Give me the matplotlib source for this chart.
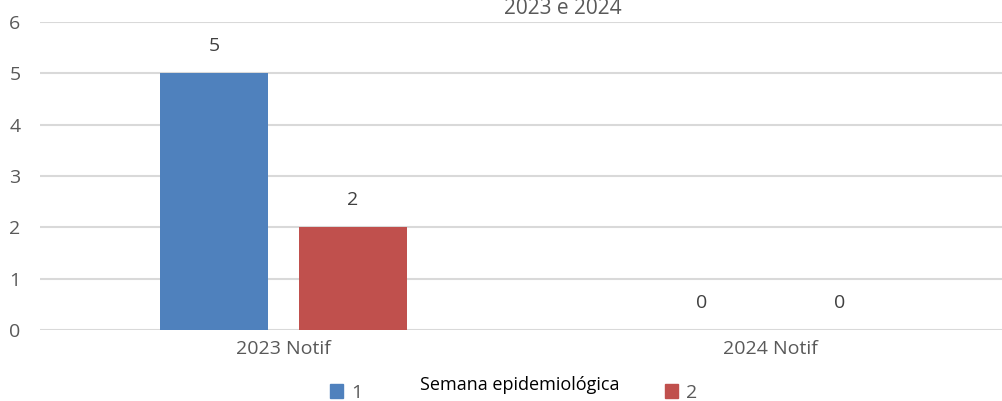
import numpy as np
import matplotlib.pyplot as plt

categories = ['2023 Notif', '2024 Notif']
serie1 = [5, 0]
serie2 = [2, 0]
series_names = ['1', '2']
titulo = '2023 e 2024'
legend_title = 'Semana epidemiológica'

plt.rcParams['font.family'] = ['Open Sans', 'DejaVu Sans']

fig = plt.figure(figsize=(10.03, 4.01), dpi=100)
ax = fig.add_axes([40 / 1003, 1 - 330 / 401, 974 / 1003, 308 / 401])

x = np.arange(len(categories))
w = 0.222
off = 0.142
b1 = ax.bar(x - off, serie1, w, color='#4f81bd', label=series_names[0], zorder=3)
b2 = ax.bar(x + off, serie2, w, color='#c0504d', label=series_names[1], zorder=3)

for bars in (b1, b2):
    for r in bars:
        ax.annotate(f'{r.get_height():g}', (r.get_x() + r.get_width() / 2, r.get_height()),
                    xytext=(0, 13), textcoords='offset points', ha='center', va='bottom',
                    fontsize=14, color='#404040')

ax.set_xlim(-0.5, 1.5)
ax.set_ylim(0, 6)
ax.set_yticks(range(7))
ax.set_xticks(x)
ax.set_xticklabels(categories)
ax.grid(axis='y', color='#d9d9d9', linewidth=1.5, zorder=0)
for s in ax.spines.values():
    s.set_visible(False)
ax.tick_params(axis='both', length=0, labelsize=14, labelcolor='#595959')
ax.tick_params(axis='y', pad=14)
ax.tick_params(axis='x', pad=7)

fig.text(563 / 1003, 1 - 9 / 401, titulo, ha='center', va='center', fontsize=15, color='#595959')

h1 = plt.Rectangle((0, 0), 1, 1, color='#4f81bd')
h2 = plt.Rectangle((0, 0), 1, 1, color='#c0504d')
fig.legend([h1], [series_names[0]], loc='center', bbox_to_anchor=(346 / 1003, 1 - 393 / 401), frameon=False,
           fontsize=14, handlelength=0.7, handleheight=0.7, handletextpad=0.4, labelcolor='#595959')
fig.legend([h2], [series_names[1]], loc='center', bbox_to_anchor=(681 / 1003, 1 - 393 / 401), frameon=False,
           fontsize=14, handlelength=0.7, handleheight=0.7, handletextpad=0.4, labelcolor='#595959')
fig.text(520 / 1003, 1 - 385 / 401, legend_title, ha='center', va='center', fontsize=13, color='black')

fig.savefig('out.png', dpi=100)
